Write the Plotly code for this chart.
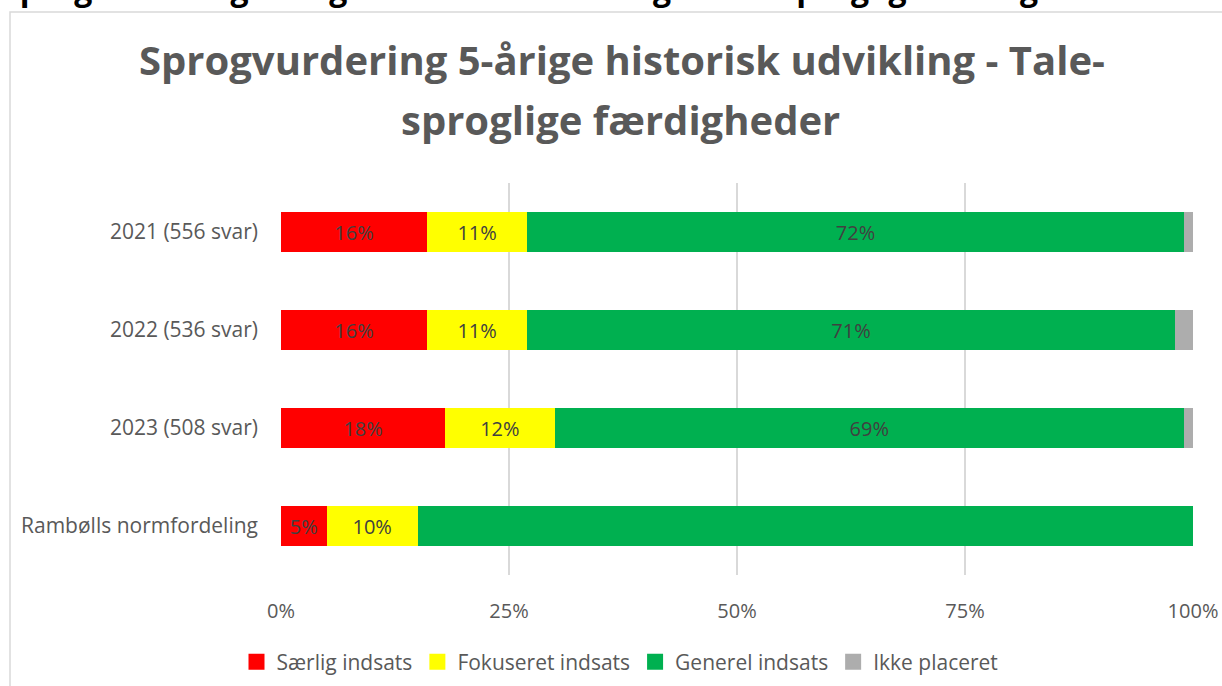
import plotly.graph_objects as go

# categories (top to bottom as in the chart)
categories = ["2021 (556 svar)", "2022 (536 svar)", "2023 (508 svar)", "Rambølls normfordeling"]

saerlig = [16, 16, 18, 5]
fokuseret = [11, 11, 12, 10]
generel = [72, 71, 69, 85]
ikke_placeret = [1, 2, 1, 0]

series_names = ["Særlig indsats", "Fokuseret indsats", "Generel indsats", "Ikke placeret"]
series_colors = ["#FF0000", "#FFFF00", "#00B050", "#ADADAD"]
# which bars carry a data label
show_labels = [
    [True, True, True, True],
    [True, True, True, True],
    [True, True, True, False],
    [False, False, False, False],
]

tick_vals = [0, 25, 50, 75, 100]
tick_text = ["0%", "25%", "50%", "75%", "100%"]

W, H = 1222, 686
L, R, T, B = 281, 29, 183, 111
pw, ph = W - L - R, H - T - B


def px_x(p):
    return (p - L) / pw


def px_y(p):
    return 1 + (T - p) / ph


font = "Open Sans"

fig = go.Figure()
for name, vals, col, flags in zip(series_names, [saerlig, fokuseret, generel, ikke_placeret],
                                  series_colors, show_labels):
    fig.add_bar(
        y=categories, x=vals, name=name, orientation="h",
        marker=dict(color=col, line=dict(width=0)),
        text=["{}%".format(v) if f else "" for v, f in zip(vals, flags)],
        textposition="inside", insidetextanchor="middle",
        textfont=dict(color="#404040", size=20, family=font),
        hoverinfo="x+name", showlegend=False, legendgroup=name,
    )

# legend entries with bigger square keys (like the Excel legend)
for name, col in zip(series_names, series_colors):
    fig.add_scatter(x=[None], y=[None], mode="markers", name=name, legendgroup=name,
                    marker=dict(symbol="square", size=16, color=col), hoverinfo="skip")

fig.update_layout(
    width=W, height=H,
    barmode="stack", bargap=0.59,
    plot_bgcolor="white", paper_bgcolor="white",
    margin=dict(l=L, r=R, t=T, b=B),
    font=dict(family=font, color="#595959", size=21),
    showlegend=True,
    legend=dict(orientation="h", xref="paper", x=px_x(620), xanchor="center",
                yref="container", y=1 - 662 / H, yanchor="middle",
                font=dict(size=21, color="#595959"), itemwidth=30, traceorder="normal"),
    xaxis=dict(range=[0, 100], tickvals=tick_vals, ticktext=tick_text, showgrid=True,
               gridcolor="#D9D9D9", gridwidth=1.5, zeroline=False, showline=False,
               ticklabelstandoff=22, fixedrange=True, automargin=False,
               tickfont=dict(size=20)),
    yaxis=dict(autorange="reversed", showgrid=False, showline=False, ticklabelstandoff=22,
               fixedrange=True, automargin=False),
    shapes=[dict(type="rect", xref="paper", yref="paper",
                 x0=px_x(10), x1=px_x(1240), y0=px_y(12), y1=px_y(720),
                 line=dict(color="#D9D9D9", width=1.5), fillcolor="rgba(0,0,0,0)", layer="below")],
    annotations=[
        dict(text="Sprogvurdering 5-årige historisk udvikling - Tale-", xref="paper", yref="paper",
             x=px_x(622), y=px_y(59), xanchor="center", yanchor="middle", showarrow=False,
             font=dict(size=40, color="#595959", family=font, weight="bold")),
        dict(text="sproglige færdigheder", xref="paper", yref="paper",
             x=px_x(620), y=px_y(119), xanchor="center", yanchor="middle", showarrow=False,
             font=dict(size=40, color="#595959", family=font, weight="bold")),
        dict(text="Sprogvurdering 5-årige historisk udvikling – Tale-sproglige færdigheder",
             xref="paper", yref="paper", x=px_x(0), y=px_y(-13), xanchor="left", yanchor="middle",
             showarrow=False, font=dict(size=32, color="#000000", family=font, weight="bold")),
    ],
)

# drop the default page margin so the figure sits at the window's top-left corner
fig.write_html("out.html", config={"displayModeBar": False},
               post_script="document.body.style.margin='0';document.body.style.overflow='hidden';")
